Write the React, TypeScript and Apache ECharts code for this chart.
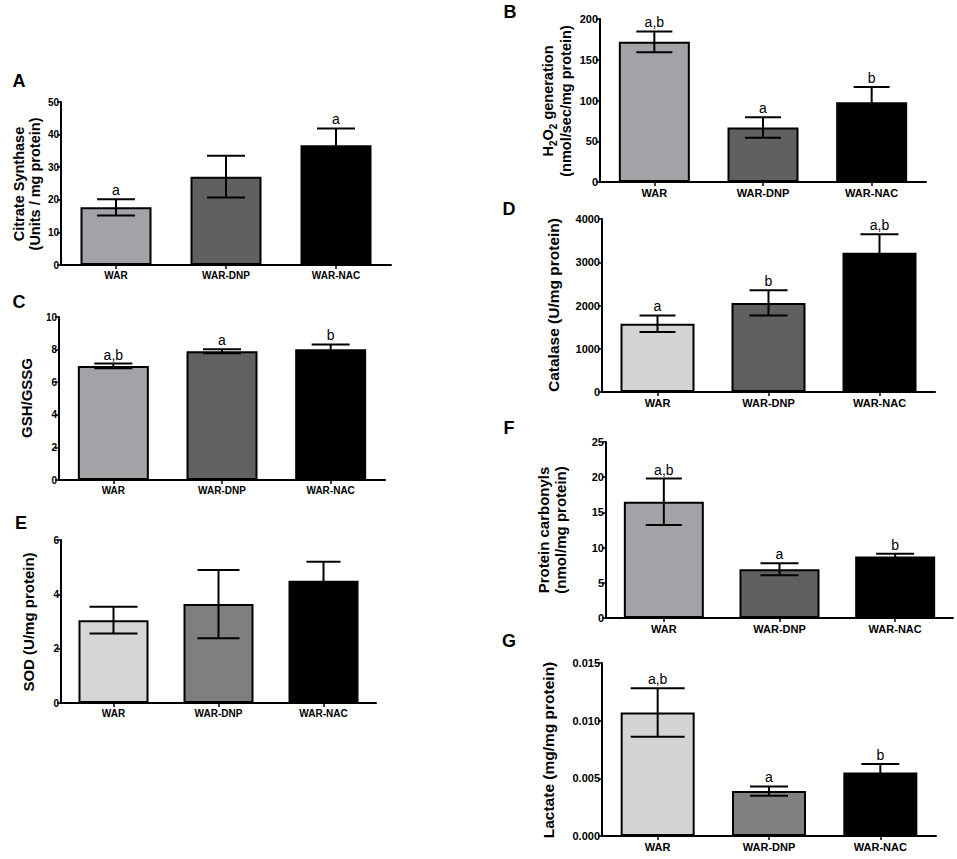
import React, { useEffect, useRef } from "react";
import * as echarts from "echarts";

const categories = ["WAR", "WAR-DNP", "WAR-NAC"];

// A – Citrate synthase
const csMean = [17.7, 27.1, 36.7];
const csErr = [2.5, 6.4, 5.2];
const csSig = ["a", "", "a"];
// B – H2O2 generation
const h2o2Mean = [172, 67, 98];
const h2o2Err = [12.7, 12.6, 18.5];
const h2o2Sig = ["a,b", "a", "b"];
// C – GSH/GSSG
const gshMean = [7.0, 7.9, 8.02];
const gshErr = [0.14, 0.12, 0.3];
const gshSig = ["a,b", "a", "b"];
// D – Catalase
const catMean = [1580, 2060, 3220];
const catErr = [190, 290, 425];
const catSig = ["a", "b", "a,b"];
// E – SOD
const sodMean = [3.05, 3.64, 4.5];
const sodErr = [0.49, 1.26, 0.7];
const sodSig = ["", "", ""];
// F – Protein carbonyls
const pcMean = [16.5, 6.93, 8.73];
const pcErr = [3.3, 0.85, 0.38];
const pcSig = ["a,b", "a", "b"];
// G – Lactate
const lacMean = [0.0107, 0.0039, 0.0055];
const lacErr = [0.0021, 0.0004, 0.00075];
const lacSig = ["a,b", "a", "b"];

const FONT = "'Liberation Sans', Arial, Helvetica, sans-serif";

type TitleLine = { text: string; x: number; rich?: boolean };

type Panel = {
  letter: string;
  lx: number;
  ly: number;
  mean: number[];
  err: number[];
  sig: string[];
  max: number;
  interval: number;
  decimals: number;
  colors: string[];
  x0: number;
  x1: number;
  yTop: number;
  yBot: number;
  barWidth: number;
  caps: number[];
  tickFont: number;
  titleY: number;
  titleFont: number;
  title: TitleLine[];
};

const panels: Panel[] = [
  {
    letter: "A", lx: 19, ly: 81,
    mean: csMean, err: csErr, sig: csSig, max: 50, interval: 10, decimals: 0,
    colors: ["#a3a3a7", "#606060", "#000000"],
    x0: 61, x1: 391, yTop: 102, yBot: 265, barWidth: 71, caps: [19, 19, 19],
    tickFont: 10, titleY: 184, titleFont: 14.5,
    title: [
      { text: "Citrate Synthase", x: 19 },
      { text: "(Units / mg protein)", x: 35 },
    ],
  },
  {
    letter: "B", lx: 510, ly: 12,
    mean: h2o2Mean, err: h2o2Err, sig: h2o2Sig, max: 200, interval: 50, decimals: 0,
    colors: ["#a3a3a7", "#606060", "#000000"],
    x0: 600, x1: 926, yTop: 19, yBot: 182, barWidth: 71, caps: [18, 18, 18],
    tickFont: 11, titleY: 101, titleFont: 14.5,
    title: [
      { text: "H{s|2}O{s|2} generation", x: 548, rich: true },
      { text: "(nmol/sec/mg protein)", x: 566 },
    ],
  },
  {
    letter: "C", lx: 19, ly: 302,
    mean: gshMean, err: gshErr, sig: gshSig, max: 10, interval: 2, decimals: 0,
    colors: ["#a3a3a7", "#616161", "#000000"],
    x0: 59, x1: 385, yTop: 317, yBot: 480, barWidth: 71, caps: [19, 19, 19],
    tickFont: 10, titleY: 398, titleFont: 15,
    title: [{ text: "GSH/GSSG", x: 26 }],
  },
  {
    letter: "D", lx: 509, ly: 209,
    mean: catMean, err: catErr, sig: catSig, max: 4000, interval: 1000, decimals: 0,
    colors: ["#d4d4d4", "#5f5f5f", "#000000"],
    x0: 602, x1: 935, yTop: 219, yBot: 392, barWidth: 74, caps: [18, 19, 19],
    tickFont: 11, titleY: 305, titleFont: 15.5,
    title: [{ text: "Catalase (U/mg protein)", x: 553 }],
  },
  {
    letter: "E", lx: 21, ly: 523,
    mean: sodMean, err: sodErr, sig: sodSig, max: 6, interval: 2, decimals: 0,
    colors: ["#d6d6d6", "#7f7f7f", "#000000"],
    x0: 61, x1: 376, yTop: 540, yBot: 703, barWidth: 70, caps: [24, 21, 17],
    tickFont: 10, titleY: 622, titleFont: 15,
    title: [{ text: "SOD (U/mg protein)", x: 28 }],
  },
  {
    letter: "F", lx: 509, ly: 428,
    mean: pcMean, err: pcErr, sig: pcSig, max: 25, interval: 5, decimals: 0,
    colors: ["#a3a3a7", "#606060", "#000000"],
    x0: 606, x1: 953, yTop: 442, yBot: 618, barWidth: 80, caps: [18, 19, 19],
    tickFont: 11, titleY: 530, titleFont: 15,
    title: [
      { text: "Protein carbonyls", x: 543 },
      { text: "(nmol/mg protein)", x: 560 },
    ],
  },
  {
    letter: "G", lx: 509, ly: 641,
    mean: lacMean, err: lacErr, sig: lacSig, max: 0.015, interval: 0.005, decimals: 3,
    colors: ["#d4d4d4", "#808080", "#000000"],
    x0: 602, x1: 936, yTop: 663, yBot: 836, barWidth: 74, caps: [27, 19, 19],
    tickFont: 11, titleY: 750, titleFont: 15.5,
    title: [{ text: "Lactate (mg/mg protein)", x: 548 }],
  },
];

function buildOption() {
  const grid: any[] = [];
  const xAxis: any[] = [];
  const yAxis: any[] = [];
  const series: any[] = [];
  const graphic: any[] = [];

  panels.forEach((p, gi) => {
    grid.push({
      left: p.x0,
      top: p.yTop,
      width: p.x1 - p.x0,
      height: p.yBot - p.yTop,
      containLabel: false,
    });
    xAxis.push({
      type: "category",
      gridIndex: gi,
      data: categories,
      boundaryGap: true,
      axisLine: { show: true, onZero: false, lineStyle: { color: "#000", width: 2 } },
      axisTick: { show: true, alignWithLabel: true, length: 4, lineStyle: { color: "#000", width: 1.5 } },
      axisLabel: {
        color: "#000",
        fontWeight: "bold",
        fontSize: p.tickFont,
        fontFamily: FONT,
        margin: 5,
      },
      splitLine: { show: false },
    });
    yAxis.push({
      type: "value",
      gridIndex: gi,
      min: 0,
      max: p.max,
      interval: p.interval,
      axisLine: { show: true, lineStyle: { color: "#000", width: 2 } },
      axisTick: { show: true, length: 4, lineStyle: { color: "#000", width: 1.5 } },
      axisLabel: {
        color: "#000",
        fontWeight: "bold",
        fontSize: p.tickFont,
        fontFamily: FONT,
        margin: 2,
        formatter: (v: number) => v.toFixed(p.decimals),
      },
      splitLine: { show: false },
    });
    series.push({
      type: "bar",
      xAxisIndex: gi,
      yAxisIndex: gi,
      barWidth: p.barWidth,
      data: p.mean.map((v, i) => ({ value: v, itemStyle: { color: p.colors[i] } })),
      itemStyle: { borderColor: "#000", borderWidth: 2 },
      z: 2,
    });
    const sig = p.sig;
    const caps = p.caps;
    series.push({
      type: "custom",
      xAxisIndex: gi,
      yAxisIndex: gi,
      z: 5,
      clip: false,
      encode: { x: 0, y: [1, 2] },
      data: p.mean.map((v, i) => [i, v - p.err[i], v + p.err[i]]),
      renderItem: (params: any, api: any) => {
        const i = params.dataIndex;
        const c = api.value(0);
        const top = api.coord([c, api.value(2)]);
        const bot = api.coord([c, api.value(1)]);
        const hw = caps[i];
        const st = { stroke: "#000", lineWidth: 2 };
        const children: any[] = [
          { type: "line", shape: { x1: top[0], y1: top[1], x2: bot[0], y2: bot[1] }, style: st },
          { type: "line", shape: { x1: top[0] - hw, y1: top[1], x2: top[0] + hw, y2: top[1] }, style: st },
          { type: "line", shape: { x1: bot[0] - hw, y1: bot[1], x2: bot[0] + hw, y2: bot[1] }, style: st },
        ];
        if (sig[i]) {
          children.push({
            type: "text",
            x: top[0],
            y: top[1] - 2,
            style: {
              text: sig[i],
              fontSize: 14,
              fontFamily: FONT,
              fill: "#000",
              align: "center",
              verticalAlign: "bottom",
            },
          });
        }
        return { type: "group", children };
      },
    });

    graphic.push({
      type: "text",
      x: p.lx,
      y: p.ly,
      style: {
        text: p.letter,
        fontSize: 18,
        fontWeight: "bold",
        fontFamily: FONT,
        fill: "#000",
        align: "center",
        verticalAlign: "middle",
      },
    });
    p.title.forEach((t) => {
      const style: any = {
        text: t.text,
        fontSize: p.titleFont,
        fontWeight: "bold",
        fontFamily: FONT,
        fill: "#000",
        align: "center",
        verticalAlign: "middle",
      };
      if (t.rich) {
        style.rich = {
          s: {
            fontSize: 10,
            fontWeight: "bold",
            fontFamily: FONT,
            fill: "#000",
            verticalAlign: "bottom",
            lineHeight: 10,
            padding: [0, 0, -3, 0],
          },
        };
      }
      graphic.push({
        type: "text",
        x: t.x,
        y: p.titleY,
        rotation: Math.PI / 2,
        style,
      });
    });
  });

  return {
    animation: false,
    backgroundColor: "#ffffff",
    textStyle: { fontFamily: FONT },
    grid,
    xAxis,
    yAxis,
    series,
    graphic,
  };
}

export default function App() {
  const ref = useRef<HTMLDivElement>(null);
  useEffect(() => {
    document.body.style.margin = "0";
    if (!ref.current) return;
    const chart = echarts.init(ref.current, undefined, { renderer: "svg" });
    chart.setOption(buildOption() as any);
    return () => chart.dispose();
  }, []);
  return <div ref={ref} style={{ width: 957, height: 859, background: "#fff" }} />;
}
